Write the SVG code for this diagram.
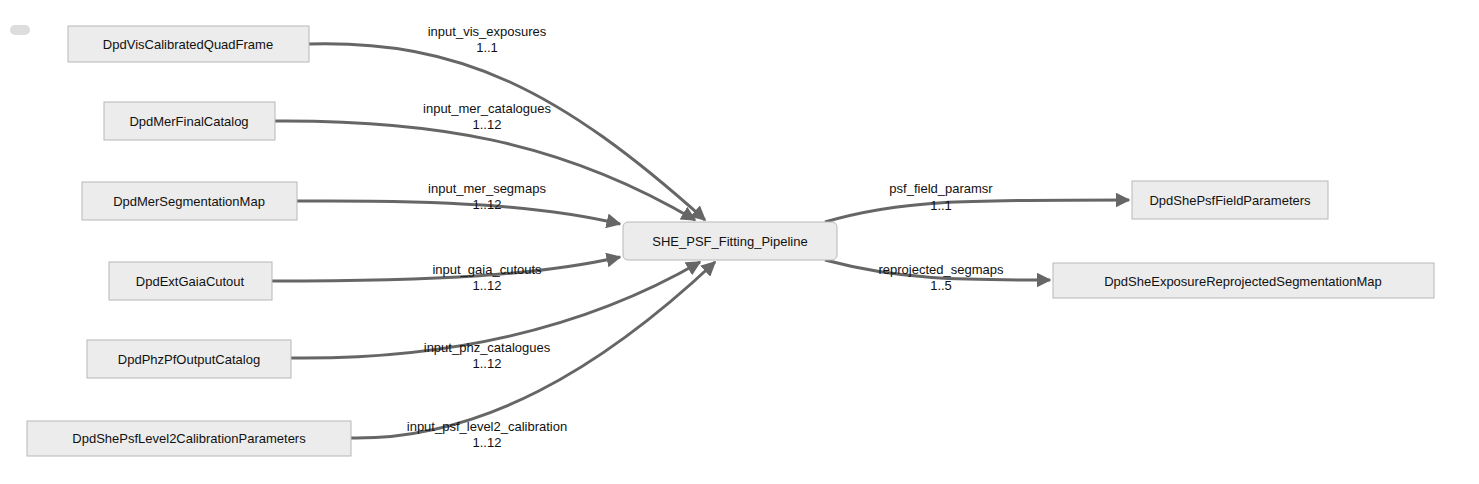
<svg xmlns="http://www.w3.org/2000/svg" width="1479" height="484" viewBox="0 0 1479 484">
<style>
.n{fill:#ececec;stroke:#b8b8b8;stroke-width:1}
.t{font-family:"Liberation Sans",Arial,sans-serif;font-size:13px;fill:#111;text-anchor:middle;dominant-baseline:central}
.e{fill:none;stroke:#666;stroke-width:3}
.lb{fill:#fff}
</style>
<defs><marker id="a" viewBox="0 0 10 10" refX="9" refY="5" markerWidth="5" markerHeight="5" orient="auto"><path d="M0,0L10,5L0,10z" fill="#666"/></marker></defs>
<rect x="10" y="25" width="20" height="10" rx="5" fill="#ddd"/>
<g id="connectors">
<path class="e" marker-end="url(#a)" d="M309,44 C460,40 560,90 705,220"/>
<path class="e" marker-end="url(#a)" d="M275,121 C430,120 560,140 695,220"/>
<path class="e" marker-end="url(#a)" d="M297,201 C440,200 540,205 620,224"/>
<path class="e" marker-end="url(#a)" d="M272,281 C440,281 540,275 620,257"/>
<path class="e" marker-end="url(#a)" d="M291,358 C470,360 600,320 700,262"/>
<path class="e" marker-end="url(#a)" d="M351,438 C480,440 600,370 715,262"/>
<path class="e" marker-end="url(#a)" d="M825,222 C900,200 960,200 1129,200"/>
<path class="e" marker-end="url(#a)" d="M825,260 C900,280 960,280 1050,280"/>
</g>
<g class="t">
<text x="487" y="31">input_vis_exposures</text><text x="487" y="47">1..1</text>
<text x="487" y="108">input_mer_catalogues</text><text x="487" y="124">1..12</text>
<text x="487" y="188">input_mer_segmaps</text><text x="487" y="204">1..12</text>
<text x="487" y="269">input_gaia_cutouts</text><text x="487" y="285">1..12</text>
<text x="487" y="347">input_phz_catalogues</text><text x="487" y="363">1..12</text>
<text x="487" y="426">input_psf_level2_calibration</text><text x="487" y="442">1..12</text>
<text x="941" y="188">psf_field_paramsr</text><text x="941" y="205">1..1</text>
<text x="941" y="269">reprojected_segmaps</text><text x="941" y="285">1..5</text>
</g>
<g id="n1"><rect class="n" x="68" y="26" width="241" height="36"/><text class="t" x="188" y="44">DpdVisCalibratedQuadFrame</text></g>
<g id="n2"><rect class="n" x="104" y="102" width="171" height="38"/><text class="t" x="189" y="121">DpdMerFinalCatalog</text></g>
<g id="n3"><rect class="n" x="82" y="182" width="215" height="38"/><text class="t" x="189" y="201">DpdMerSegmentationMap</text></g>
<g id="n4"><rect class="n" x="109" y="262" width="163" height="38"/><text class="t" x="190" y="281">DpdExtGaiaCutout</text></g>
<g id="n5"><rect class="n" x="87" y="340" width="204" height="38"/><text class="t" x="189" y="359">DpdPhzPfOutputCatalog</text></g>
<g id="n6"><rect class="n" x="27" y="421" width="324" height="35"/><text class="t" x="189" y="438">DpdShePsfLevel2CalibrationParameters</text></g>
<g id="center"><rect class="n" x="623" y="222" width="214" height="38" rx="5"/><text class="t" x="730" y="241">SHE_PSF_Fitting_Pipeline</text></g>
<g id="o1"><rect class="n" x="1132" y="181" width="196" height="38"/><text class="t" x="1230" y="200">DpdShePsfFieldParameters</text></g>
<g id="o2"><rect class="n" x="1053" y="263" width="381" height="35"/><text class="t" x="1243" y="281">DpdSheExposureReprojectedSegmentationMap</text></g>
</svg>
